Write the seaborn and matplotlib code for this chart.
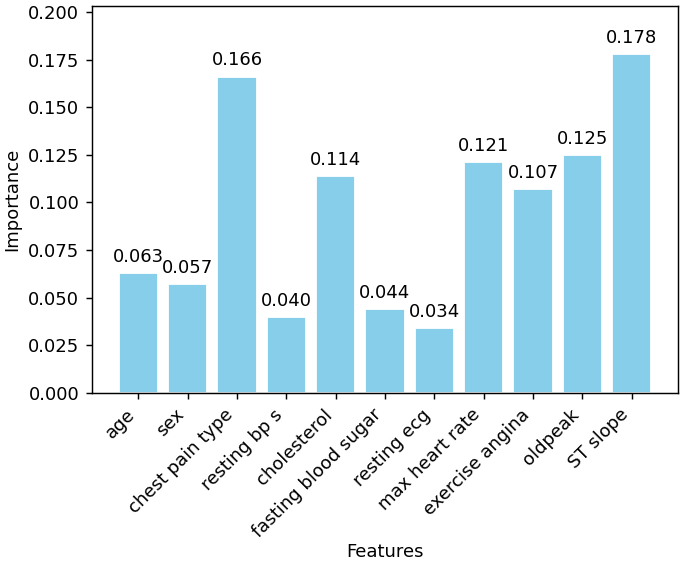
import matplotlib
matplotlib.use("Agg")
import matplotlib.pyplot as plt
import seaborn as sns
import pandas as pd

features = ["age", "sex", "chest pain type", "resting bp s", "cholesterol",
            "fasting blood sugar", "resting ecg", "max heart rate",
            "exercise angina", "oldpeak", "ST slope"]
importance = [0.063, 0.057, 0.166, 0.040, 0.114, 0.044, 0.034, 0.121, 0.107, 0.125, 0.178]

df = pd.DataFrame({"Features": features, "Importance": importance})

sns.set_style("ticks")
plt.rcParams['font.family'] = ['DejaVu Sans']
plt.rcParams['text.color'] = 'black'
plt.rcParams['axes.labelcolor'] = 'black'
plt.rcParams['xtick.color'] = 'black'
plt.rcParams['ytick.color'] = 'black'

dpi = 130
fig = plt.figure(figsize=(685 / dpi, 565 / dpi), dpi=dpi)
ax = fig.add_axes([92 / 685, 1 - 393 / 565, (678 - 92) / 685, (393 - 6) / 565])

sns.barplot(data=df, x="Features", y="Importance", color="skyblue",
            saturation=1, width=0.8, ax=ax)

for c in ax.containers:
    ax.bar_label(c, fmt="%.3f", padding=4, fontsize=10, color="black")

n = len(features)
ax.set_xlim(-0.4 - 0.05 * (n - 0.2), n - 1 + 0.4 + 0.05 * (n - 0.2))
ax.set_ylim(0, 0.2031)
ax.set_yticks([i * 0.025 for i in range(9)])
ax.set_yticklabels([f"{i * 0.025:.3f}" for i in range(9)])
plt.setp(ax.get_xticklabels(), rotation=45, ha="right", rotation_mode="default")
ax.set_xlabel("Features", labelpad=1)
ax.set_ylabel("Importance")
for s in ax.spines.values():
    s.set_visible(True)
    s.set_color("black")
    s.set_linewidth(0.8)
ax.tick_params(colors="black", labelcolor="black", width=0.8, length=3.5)

fig.savefig("out.png", dpi=dpi)
